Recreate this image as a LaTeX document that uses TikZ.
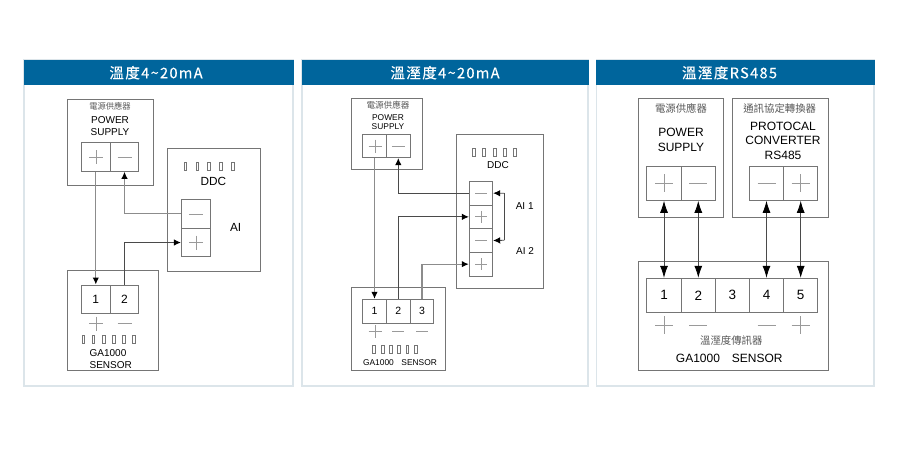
\documentclass[tikz,border=0pt]{standalone}
\usepackage{fontspec}
\setmainfont{Liberation Sans}
\newfontfamily\cjk{Noto Sans CJK TC}
\newfontfamily\titlefont[LetterSpace=9,FakeBold=0.25]{Noto Sans CJK TC}
\usetikzlibrary{arrows.meta,calc}
\definecolor{headblue}{HTML}{00659C}
\definecolor{panelline}{HTML}{DCE5EA}
\definecolor{boxline}{HTML}{757575}
\definecolor{signline}{HTML}{9A9A9A}
\definecolor{softwire}{HTML}{8C8C8C}
\definecolor{darkwire}{HTML}{4A4A4A}
\tikzset{
  x=1pt,y=-1pt,
  panel/.style={draw=panelline,line width=1.2pt,fill=white},
  header/.style={fill=headblue,draw=none,inner sep=0pt},
  headtext/.style={text=white,inner sep=0pt,font=\titlefont\fontsize{14.6}{15}\selectfont},
  box/.style={draw=boxline,line width=1pt},
  cell/.style={draw=boxline,line width=1pt,inner sep=0pt,text=black},
  sign/.style={draw=signline,line width=1pt},
  led/.style={draw=boxline,line width=.7pt,fill=white},
  softw/.style={draw=softwire,line width=1.2pt},
  darkw/.style={draw=darkwire,line width=.8pt},
  tip/.style={-{Latex[length=7pt,width=6.5pt,black]}},
  bitip/.style={{Latex[length=12pt,width=8pt,black]}-{Latex[length=12pt,width=8pt,black]}},
  lbl/.style={inner sep=0pt,text=black},
  cjklbl/.style={inner sep=0pt,text=black!65,font=\cjk},
}
% rectangular node given by its corners: name, x1, y1, x2, y2, style, text
\newcommand{\rectnode}[7]{%
  \node[#6,minimum width={#4-#2},minimum height={#5-#3}] (#1) at ({(#2+#4)/2},{(#3+#5)/2}) {#7};}
\newcommand{\plussign}[3]{% x y half-size
  \draw[sign] ({#1-#3},#2) -- ({#1+#3},#2) ({#1},{#2-#3}) -- ({#1},{#2+#3});}
\newcommand{\minussign}[3]{\draw[sign] ({#1-#3},#2) -- ({#1+#3},#2);}
\newcommand{\ledmark}[2]{\draw[led] ({#1-1.3},{#2-4}) rectangle ({#1+1.3},{#2+4});}
\begin{document}
\begin{tikzpicture}
\useasboundingbox (0,0) rectangle (900,451);
\fill[white] (0,0) rectangle (900,451);

% panels
\draw[panel] (24,60) rectangle (293,386);
\draw[panel] (302,60) rectangle (588,386);
\draw[panel] (596.5,60) rectangle (874,386);
\rectnode{h1}{23.5}{59.5}{293.5}{85}{header}{}
\rectnode{h2}{301.5}{59.5}{588.5}{85}{header}{}
\rectnode{h3}{596}{59.5}{874.5}{85}{header}{}
\node[headtext] (h1t) at (156,72.7) {溫度4\char`\~20mA};
\node[headtext] (h2t) at (445,72.7) {溫溼度4\char`\~20mA};
\node[headtext] (h3t) at (729.5,72.7) {溫溼度RS485};

% ===== panel 1 =====
\draw[box] (67.3,99.3) rectangle (153,185.3);
\draw[box] (167.3,148.7) rectangle (260.3,271);
\draw[box] (67.3,270.7) rectangle (158.3,370.7);
\rectnode{pa}{81.3}{142.3}{110.3}{171.3}{cell}{}
\rectnode{pb}{110.3}{142.3}{138.7}{171.3}{cell}{}
\rectnode{am}{181.3}{199.3}{210.7}{228.3}{cell}{}
\rectnode{ap}{181.3}{228.3}{210.7}{256.7}{cell}{}
\rectnode{sa}{81.3}{285}{110.3}{313.3}{cell,font=\fontsize{12}{13}\selectfont}{1}
\rectnode{sb}{110.3}{285}{138.7}{313.3}{cell,font=\fontsize{12}{13}\selectfont}{2}
\plussign{96}{157}{7}
\minussign{124.5}{157}{7}
\minussign{196}{214}{7}
\plussign{196}{242.5}{7}
\plussign{96}{323.5}{7}
\minussign{124.5}{323.5}{7}
\foreach \x in {185.3,197.3,209,221,233}{\ledmark{\x}{166.7}}
\foreach \x in {83.3,93.3,104,114,124,134}{\ledmark{\x}{339.3}}
\node[cjklbl,font=\cjk\fontsize{8.3}{10}\selectfont] (t1) at (110,106.7) {電源供應器};
\node[lbl,font=\fontsize{10}{12}\selectfont] (t2) at (110,120) {POWER};
\node[lbl,font=\fontsize{10}{12}\selectfont] (t3) at (110,132) {SUPPLY};
\node[lbl,font=\fontsize{11.8}{13}\selectfont] (t4) at (213.3,181.3) {DDC};
\node[lbl,font=\fontsize{11.8}{13}\selectfont] (t5) at (235.7,227.7) {AI};
\node[lbl,font=\fontsize{10}{12}\selectfont] (t6) at (108,352.7) {GA1000};
\node[lbl,font=\fontsize{10}{12}\selectfont] (t7) at (110.7,365) {SENSOR};
\draw[softw,tip] (pa.south) -- (sa.north);
\draw[softw,tip] (am.west) -| (pb.south);
\draw[darkw,tip] (sb.north) |- (ap.west);

% ===== panel 2 =====
\draw[box] (351.3,98.3) rectangle (422,169.3);
\draw[box] (456.7,134.3) rectangle (543,288.3);
\draw[box] (351.3,287.3) rectangle (445.7,370.3);
\rectnode{qa}{362.7}{134.3}{386.3}{157.7}{cell}{}
\rectnode{qb}{386.3}{134.3}{410.3}{157.7}{cell}{}
\rectnode{ta}{469.3}{181.3}{492.7}{205}{cell}{}
\rectnode{tb}{469.3}{205}{492.7}{228.7}{cell}{}
\rectnode{tc}{469.3}{228.7}{492.7}{252.3}{cell}{}
\rectnode{td}{469.3}{252.3}{492.7}{276}{cell}{}
\rectnode{ua}{362.7}{299.3}{386.3}{323.3}{cell,font=\fontsize{10.5}{12}\selectfont}{1}
\rectnode{ub}{386.3}{299.3}{410.3}{323.3}{cell,font=\fontsize{10.5}{12}\selectfont}{2}
\rectnode{uc}{410.3}{299.3}{433.7}{323.3}{cell,font=\fontsize{10.5}{12}\selectfont}{3}
\plussign{375}{146}{6.5}
\minussign{398.3}{146}{6.5}
\minussign{481}{193.3}{6}
\plussign{481}{216.8}{6}
\minussign{481}{240.3}{6}
\plussign{481}{264}{6}
\plussign{375}{331.7}{6.5}
\minussign{398.3}{331.7}{6}
\minussign{422}{331.7}{6}
\foreach \x in {474,483.7,494.7,505,514.7}{\ledmark{\x}{152.7}}
\foreach \x in {374,383,390.7,398.7,407.3,416}{\ledmark{\x}{349}}
\node[cjklbl,font=\cjk\fontsize{8.6}{10}\selectfont] (v1) at (388,105) {電源供應器};
\node[lbl,font=\fontsize{8.4}{10}\selectfont] (v2) at (388,117.3) {POWER};
\node[lbl,font=\fontsize{8.4}{10}\selectfont] (v3) at (388,127) {SUPPLY};
\node[lbl,font=\fontsize{10}{12}\selectfont] (v4) at (498,165) {DDC};
\node[lbl,font=\fontsize{10}{12}\selectfont] (v5) at (524.7,205.7) {AI 1};
\node[lbl,font=\fontsize{10}{12}\selectfont] (v6) at (525,251) {AI 2};
\node[lbl,font=\fontsize{8.4}{10}\selectfont] (v7) at (400,362.7) {GA1000\hspace{.9em}SENSOR};
\coordinate (loopa) at (504.3,193.3);
\coordinate (loopb) at (504.3,240.3);
\draw[softw,tip] (qa.south) -- (ua.north);
\draw[darkw,tip] (ta.west) -| (qb.south);
\draw[darkw,tip] (ub.north) |- (tb.west);
\draw[softw,tip] (uc.north) |- (td.west);
\draw[darkw,tip] (loopa) -- (ta.east);
\draw[darkw,tip] (loopb) -- (tc.east);
\draw[darkw] (loopa) -- (loopb);

% ===== panel 3 =====
\draw[box] (638.3,98.3) rectangle (723.7,217.7);
\draw[box] (732.3,98.3) rectangle (828.7,217.7);
\draw[box] (638.3,261.3) rectangle (828.7,370.7);
\rectnode{ra}{646.7}{166.3}{681.3}{200.3}{cell}{}
\rectnode{rb}{681.3}{166.3}{715.3}{200.3}{cell}{}
\rectnode{ca}{749.3}{166.3}{783.7}{200.3}{cell}{}
\rectnode{cb}{783.7}{166.3}{817.7}{200.3}{cell}{}
\foreach \n/\xa/\xb/\d in {w1/646.7/681.3/1,w2/681.3/715.3/2,w3/715.3/749.3/3,w4/749.3/783.7/4,w5/783.7/817.7/5}{
  \rectnode{\n}{\xa}{278.3}{\xb}{312.3}{cell,font=\fontsize{13.5}{15}\selectfont}{\d}
}
\plussign{664}{183.3}{9}
\minussign{698.3}{183.3}{9}
\minussign{766.5}{183.3}{9}
\plussign{800.7}{183.3}{9}
\plussign{664}{325}{9}
\minussign{698.3}{325}{9}
\minussign{766.5}{325}{9}
\plussign{800.7}{325}{9}
\node[cjklbl,font=\cjk\fontsize{10.4}{12}\selectfont] (x1) at (681,108.7) {電源供應器};
\node[lbl,font=\fontsize{12}{14}\selectfont] (x2) at (681,132.7) {POWER};
\node[lbl,font=\fontsize{12}{14}\selectfont] (x3) at (681,147) {SUPPLY};
\node[cjklbl,font=\cjk\fontsize{10.4}{12}\selectfont] (x4) at (779.7,108.7) {通訊協定轉換器};
\node[lbl,font=\fontsize{12}{14}\selectfont] (x5) at (783,126.3) {PROTOCAL};
\node[lbl,font=\fontsize{12}{14}\selectfont] (x6) at (783,140.7) {CONVERTER};
\node[lbl,font=\fontsize{12}{14}\selectfont] (x7) at (783,155) {RS485};
\node[cjklbl,font=\cjk\fontsize{10.4}{12}\selectfont] (x8) at (731.3,340.3) {溫溼度傳訊器};
\node[lbl,font=\fontsize{12}{14}\selectfont] (x9) at (729.3,358.3) {GA1000\hspace{1em}SENSOR};
\draw[darkw,bitip] (ra.south) -- (w1.north);
\draw[darkw,bitip] (rb.south) -- (w2.north);
\draw[darkw,bitip] (ca.south) -- (w4.north);
\draw[darkw,bitip] (cb.south) -- (w5.north);
\end{tikzpicture}
\end{document}
